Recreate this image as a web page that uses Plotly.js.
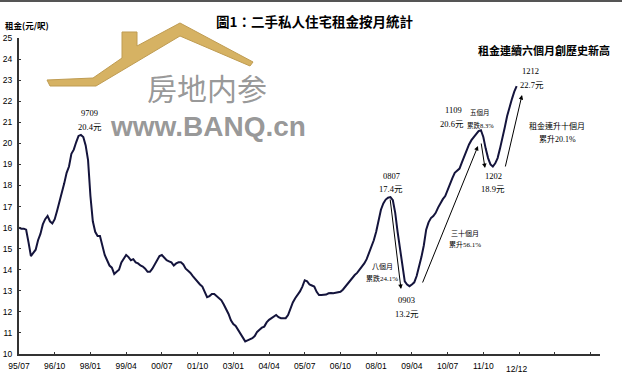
<!DOCTYPE html>
<html><head><meta charset="utf-8">
<script src="https://cdn.plot.ly/plotly-3.0.1.min.js"></script>
<style>html,body{margin:0;padding:0;background:#fff;}#chart{width:622px;height:379px;}</style>
</head><body><div id="chart"></div>
<script>
// Monthly rent (HK$/sq ft), 1995/07 .. 2012/12 (index 0 = 1995/07)
const rent = [
16.0,15.95,15.95,15.9,15.3,14.65,14.8,14.95,15.4,15.7,
16.15,16.4,16.55,16.3,16.2,16.4,16.8,17.2,17.7,18.1,
18.6,18.9,19.5,19.7,20.05,20.35,20.4,20.3,19.9,19.2,
17.5,16.3,15.8,15.6,15.6,15.1,14.7,14.45,14.2,14.1,
13.8,13.9,14.0,14.35,14.55,14.7,14.6,14.45,14.5,14.35,
14.3,14.2,14.15,14.05,13.9,13.9,14.05,14.25,14.45,14.65,
14.7,14.55,14.45,14.4,14.35,14.2,14.3,14.35,14.35,14.25,
14.05,13.95,13.85,13.7,13.55,13.4,13.3,13.2,12.95,12.7,
12.75,12.85,12.85,12.75,12.65,12.55,12.35,12.15,11.9,11.6,
11.42,11.33,11.15,10.95,10.75,10.6,10.65,10.7,10.75,10.85,
11.05,11.15,11.25,11.3,11.5,11.62,11.7,11.78,11.85,11.75,
11.7,11.7,11.7,11.85,12.2,12.45,12.65,12.8,12.97,13.2,
13.5,13.45,13.3,13.25,13.2,12.95,12.8,12.8,12.8,12.82,
12.88,12.9,12.88,12.9,12.9,12.95,13.05,13.2,13.35,13.5,
13.6,13.75,13.85,14.0,14.1,14.3,14.5,14.8,15.05,15.4,
15.8,16.35,16.85,17.15,17.33,17.42,17.45,17.3,16.7,15.8,
15.0,14.1,13.45,13.3,13.22,13.3,13.4,13.7,14.1,14.6,
15.15,15.9,16.25,16.45,16.55,16.7,16.95,17.17,17.35,17.5,
17.8,18.15,18.35,18.6,18.72,18.8,19.1,19.4,19.65,19.95,
20.15,20.3,20.45,20.58,20.62,20.3,19.75,19.3,19.0,18.9,
19.05,19.3,19.75,20.2,20.75,21.3,21.75,22.1,22.45,22.72
];
const monthIndex = rent.map((_, i) => i);
const tickPositions = [0,15,30,45,60,75,90,105,120,135,150,165,180,195,210,225,240];
const tickLabels = ['95/07','96/10','98/01','99/04','00/07','01/10','03/01','04/04','05/07','06/10','08/01','09/04','10/07','11/10','','',''];
const yTicks = [10,11,12,13,14,15,16,17,18,19,20,21,22,23,24,25];
const lastMonthLabel = '12/12';

// pixel helpers (plot area 19..600 x 38..354)
const L=19, R=600, T=38, B=354, X0=0, X1=244, Y0=10, Y1=25;
const px2x = p => X0 + (p-L)/(R-L)*(X1-X0);
const py2y = p => Y0 + (B-p)/(B-T)*(Y1-Y0);
const pxp = p => (p-L)/(R-L);
const pyp = p => (B-p)/(B-T);

const serif = 'Liberation Serif, Noto Sans CJK TC, serif';
const cjk = 'Noto Sans CJK TC, sans-serif';

function txt(px, py, text, size, family, extra) {
  return Object.assign({xref:'paper', yref:'paper', x:pxp(px), y:pyp(py), text:text,
    showarrow:false, xanchor:'center', yanchor:'middle',
    font:{family:family||serif, size:size||8.5, color:'#000'}}, extra||{});
}
function arrow(tx, ty, hx, hy) {
  return {xref:'x', yref:'y', axref:'x', ayref:'y', x:px2x(hx), y:py2y(hy), ax:px2x(tx), ay:py2y(ty),
    text:'', showarrow:true, arrowhead:2, arrowsize:0.9, arrowwidth:1, arrowcolor:'#000', standoff:0, startstandoff:0};
}

// roof watermark polygon (pixels)
const roofPx = [[47,80],[93,78],[122,58],[122,32],[137,32],[137,46],[180,23],[253,62],[250,66],[180,36],[96,86],[50,86]];
const roofPath = 'M' + roofPx.map(p => pxp(p[0]).toFixed(4)+','+pyp(p[1]).toFixed(4)).join(' L') + ' Z';

const annotations = [
  txt(314, 21, '<b>圖1：二手私人住宅租金按月統計</b>', 13.5, cjk),
  txt(3, 25, '<b>租金(元/呎)</b>', 8.5, cjk, {xanchor:'left'}),
  txt(544, 50, '<b>租金連續六個月創歷史新高</b>', 11, cjk),
  txt(207, 87, '房地内参', 30, cjk, {font:{family:cjk, size:30, color:'rgba(125,125,125,0.8)'}}),
  txt(208, 126, '<b>www.BANQ.cn</b>', 28, 'Liberation Sans, Arial, sans-serif', {font:{family:'Liberation Sans, Arial, sans-serif', size:28, color:'rgba(125,125,125,0.8)'}}),
  txt(89, 113, '9709', 8.5),
  txt(90, 127, '20.4元', 8.5),
  txt(391, 176, '0807', 8.5),
  txt(391, 189, '17.4元', 8.5),
  txt(407, 300, '0903', 8.5),
  txt(407, 314, '13.2元', 8.5),
  txt(453, 110, '1109', 8.5),
  txt(452, 124, '20.6元', 8.5),
  txt(480, 112, '五個月', 6.5, cjk),
  txt(480, 125, '累跌8.3%', 6.5, serif),
  txt(493, 176, '1202', 8.5),
  txt(493, 189, '18.9元', 8.5),
  txt(530, 71, '1212', 8.5),
  txt(532, 85, '22.7元', 8.5),
  txt(557, 125, '租金連升十個月', 8, cjk),
  txt(557, 139, '累升20.1%', 8, serif),
  txt(465, 233, '三十個月', 7, cjk),
  txt(465, 245, '累升56.1%', 7, serif),
  txt(382, 266, '八個月', 7, cjk),
  txt(382, 278, '累跌24.1%', 7, serif),
  {xref:'x', yref:'paper', x:209, y:pyp(369), text:lastMonthLabel, showarrow:false, xanchor:'center', yanchor:'middle',
   font:{family:'Liberation Sans, sans-serif', size:8.5, color:'#000'}},
  arrow(390, 198, 401, 289),
  arrow(422, 284, 478, 146),
  arrow(481, 142, 485, 168),
  arrow(505, 168, 522, 95)
];

const shapes = [
  {type:'path', xref:'paper', yref:'paper', path:roofPath, fillcolor:'#d6b263', line:{color:'#bf9c52', width:1}, layer:'below'},
  {type:'line', xref:'paper', yref:'paper', x0:pxp(0), x1:pxp(622), y0:pyp(1), y1:pyp(1), line:{color:'#555', width:2}}
];

const trace = {
  x: monthIndex, y: rent, type:'scatter', mode:'lines',
  line:{color:'#14143c', width:2}, hoverinfo:'skip'
};

const layout = {
  width:622, height:379,
  margin:{l:L, r:622-R, t:T, b:379-B},
  paper_bgcolor:'#fff', plot_bgcolor:'#fff',
  showlegend:false,
  xaxis:{range:[X0,X1], tickvals:tickPositions, ticktext:tickLabels, showgrid:false, zeroline:false,
    showline:true, linecolor:'#333', linewidth:2, ticks:'inside', ticklen:2, tickcolor:'#333',
    tickfont:{family:'Liberation Sans, sans-serif', size:8.5, color:'#000'}, ticklabelstandoff:3},
  yaxis:{range:[Y0,Y1], tickvals:yTicks, showgrid:false, zeroline:false,
    showline:true, linecolor:'#333', linewidth:2, ticks:'inside', ticklen:2, tickcolor:'#333',
    tickfont:{family:'Liberation Sans, sans-serif', size:8.5, color:'#000'}, ticklabelstandoff:3},
  annotations: annotations,
  shapes: shapes
};

Plotly.newPlot('chart', [trace], layout, {staticPlot:true, displayModeBar:false});
</script>
</body></html>
